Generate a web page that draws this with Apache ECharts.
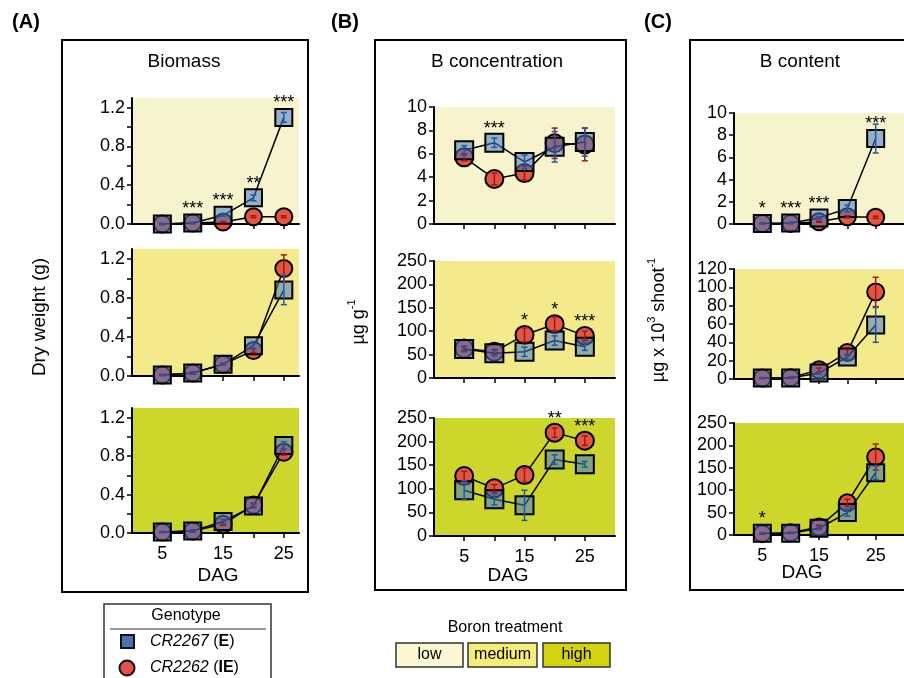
<!DOCTYPE html>
<html>
<head>
<meta charset="utf-8">
<script src="https://cdn.jsdelivr.net/npm/echarts@6/dist/echarts.min.js"></script>
<style>
  html, body { margin: 0; padding: 0; background: #fff; }
  #chart { width: 904px; height: 678px; }
</style>
</head>
<body>
<div id="chart"></div>
<script>
// days after germination
var dag = [5, 10, 15, 20, 25];

// (A) Biomass, dry weight (g)
var bioLowE = [0.00, 0.01, 0.09, 0.27, 1.10];
var bioLowEErr = [0.005, 0.005, 0.01, 0.03, 0.05];
var bioLowIE = [0.00, 0.01, 0.02, 0.075, 0.075];
var bioLowIEErr = [0.005, 0.005, 0.005, 0.01, 0.01];
var bioLowStars = ['', '***', '***', '**', '***'];

var bioMedE = [0.01, 0.03, 0.12, 0.31, 0.88];
var bioMedEErr = [0.005, 0.01, 0.01, 0.03, 0.15];
var bioMedIE = [0.01, 0.03, 0.12, 0.26, 1.10];
var bioMedIEErr = [0.005, 0.01, 0.01, 0.02, 0.14];
var bioMedStars = ['', '', '', '', ''];

var bioHighE = [0.01, 0.02, 0.12, 0.28, 0.91];
var bioHighEErr = [0.005, 0.01, 0.02, 0.02, 0.04];
var bioHighIE = [0.01, 0.02, 0.09, 0.29, 0.84];
var bioHighIEErr = [0.005, 0.01, 0.01, 0.02, 0.03];
var bioHighStars = ['', '', '', '', ''];

// (B) B concentration, ug g-1
var concLowE = [6.3, 6.95, 5.3, 6.6, 7.0];
var concLowEErr = [0.4, 0.4, 0.6, 1.3, 1.2];
var concLowIE = [5.7, 3.85, 4.35, 6.9, 6.8];
var concLowIEErr = [0.3, 0.5, 0.6, 1.3, 1.4];
var concLowStars = ['', '***', '', '', ''];

var concMedE = [62, 53, 56, 80, 67];
var concMedEErr = [6, 6, 10, 10, 8];
var concMedIE = [63, 56, 92, 115, 90];
var concMedIEErr = [4, 5, 15, 15, 10];
var concMedStars = ['', '', '*', '*', '***'];

var concHighE = [97, 78, 65, 162, 152];
var concHighEErr = [20, 12, 32, 10, 6];
var concHighIE = [127, 101, 129, 219, 202];
var concHighIEErr = [10, 8, 15, 10, 10];
var concHighStars = ['', '', '', '**', '***'];

// (C) B content, ug x 10^3 shoot-1
var contLowE = [0.05, 0.1, 0.55, 1.4, 7.7];
var contLowEErr = [0.05, 0.05, 0.1, 0.3, 1.3];
var contLowIE = [0.05, 0.05, 0.2, 0.65, 0.6];
var contLowIEErr = [0.02, 0.02, 0.05, 0.1, 0.1];
var contLowStars = ['*', '***', '***', '', '***'];

var contMedE = [1, 1, 6.5, 24, 59];
var contMedEErr = [0.5, 0.5, 1, 3, 19];
var contMedIE = [1, 1.5, 10, 29, 95];
var contMedIEErr = [0.5, 0.5, 2, 3, 16];
var contMedStars = ['', '', '', '', ''];

var contHighE = [4, 4, 15, 50, 139];
var contHighEErr = [1, 1, 3, 8, 15];
var contHighIE = [3, 5, 18, 72, 174];
var contHighIEErr = [1, 1, 4, 8, 29];
var contHighStars = ['*', '', '', '', ''];

var FONT = 'Liberation Sans, Arial, sans-serif';
var BG_LOW = '#f6f3cd', BG_MED = '#f3eb8b', BG_HIGH = '#cdd62b';
var E_FILL = 'rgba(70,120,200,0.55)', IE_FILL = '#e2563f';

var grids = [], xAxes = [], yAxes = [], series = [];

function pairs(y) {
    return dag.map(function (d, i) { return [d, y[i]]; });
}

function errSeries(idx, y, err, color) {
    return {
        type: 'custom', xAxisIndex: idx, yAxisIndex: idx, z: 5, silent: true,
        data: dag.map(function (d, i) { return [d, y[i], err[i]]; }),
        renderItem: function (params, api) {
            var x = api.value(0), v = api.value(1), e = api.value(2);
            var hi = api.coord([x, v + e]), lo = api.coord([x, v - e]);
            var st = {stroke: color, lineWidth: 1.5};
            return {type: 'group', children: [
                {type: 'line', shape: {x1: hi[0], y1: hi[1], x2: lo[0], y2: lo[1]}, style: st},
                {type: 'line', shape: {x1: hi[0] - 3, y1: hi[1], x2: hi[0] + 3, y2: hi[1]}, style: st},
                {type: 'line', shape: {x1: lo[0] - 3, y1: lo[1], x2: lo[0] + 3, y2: lo[1]}, style: st}
            ]};
        }
    };
}

function addPlot(p) {
    var i = grids.length;
    grids.push({left: p.left, top: p.top, width: p.width, height: p.height,
        show: true, backgroundColor: p.bg, borderWidth: 0});
    xAxes.push({
        gridIndex: i, type: 'value', min: 0, max: p.xMax,
        axisLine: {onZero: false, lineStyle: {color: '#000', width: 2}},
        axisTick: {customValues: dag, length: 5, lineStyle: {color: '#000', width: 1.5}},
        axisLabel: {show: p.xLabels, customValues: [5, 15, 25], margin: 12,
            fontSize: 18, color: '#000', fontFamily: FONT},
        splitLine: {show: false}
    });
    var y = {
        gridIndex: i, type: 'value', min: 0, max: p.yMax,
        axisLine: {show: true, lineStyle: {color: '#000', width: 2}},
        axisTick: {show: true, length: 5, lineStyle: {color: '#000', width: 1.5}},
        axisLabel: {margin: 7, fontSize: 18, color: '#000', fontFamily: FONT},
        splitLine: {show: false}
    };
    if (p.yTicks) {
        y.axisTick.customValues = p.yTicks;
        y.axisLabel.customValues = p.yLabels;
        y.axisLabel.formatter = function (v) { return v.toFixed(1); };
    } else {
        y.interval = p.yStep;
    }
    yAxes.push(y);

    var lineStyle = {color: '#000', width: 1.5};
    series.push({
        type: 'line', xAxisIndex: i, yAxisIndex: i, data: pairs(p.ie), z: 2,
        symbol: 'circle', symbolSize: p.sym, lineStyle: lineStyle,
        itemStyle: {color: IE_FILL, borderColor: '#000', borderWidth: 2}
    });
    series.push({
        type: 'line', xAxisIndex: i, yAxisIndex: i, data: pairs(p.e), z: 3,
        symbol: 'rect', symbolSize: p.sym, lineStyle: lineStyle,
        itemStyle: {color: E_FILL, borderColor: '#000', borderWidth: 2}
    });
    series.push(errSeries(i, p.ie, p.ieErr, '#a3161a'));
    series.push(errSeries(i, p.e, p.eErr, '#22589e'));
    var stars = p.stars;
    series.push({
        type: 'custom', xAxisIndex: i, yAxisIndex: i, z: 6, silent: true,
        data: dag.map(function (d, k) { return [d, Math.max(p.e[k], p.ie[k])]; }),
        renderItem: function (params, api) {
            var s = stars[params.dataIndex];
            if (!s) return null;
            var pt = api.coord([api.value(0), api.value(1)]);
            return {type: 'text', x: pt[0], y: pt[1] - 14, style: {
                text: s, fill: '#000', font: '18px ' + FONT,
                align: 'center', verticalAlign: 'middle',
                textAlign: 'center', textVerticalAlign: 'middle'}};
        }
    });
}

var aTicks = [0, 0.2, 0.4, 0.6, 0.8, 1.0, 1.2], aLabels = [0, 0.4, 0.8, 1.2];
var A = {left: 132, width: 167, xMax: 27.5, yMax: 1.3, yTicks: aTicks, yLabels: aLabels, sym: 17};
var B = {left: 434, width: 181, xMax: 30, sym: 18};
var C = {left: 734, width: 178, xMax: 30, sym: 17};

function mk(base, extra) {
    var o = {};
    for (var k in base) o[k] = base[k];
    for (var k2 in extra) o[k2] = extra[k2];
    return o;
}

addPlot(mk(A, {top: 98, height: 126, bg: BG_LOW, xLabels: false,
    e: bioLowE, eErr: bioLowEErr, ie: bioLowIE, ieErr: bioLowIEErr, stars: bioLowStars}));
addPlot(mk(A, {top: 249, height: 127, bg: BG_MED, xLabels: false,
    e: bioMedE, eErr: bioMedEErr, ie: bioMedIE, ieErr: bioMedIEErr, stars: bioMedStars}));
addPlot(mk(A, {top: 408, height: 125, bg: BG_HIGH, xLabels: true,
    e: bioHighE, eErr: bioHighEErr, ie: bioHighIE, ieErr: bioHighIEErr, stars: bioHighStars}));

addPlot(mk(B, {top: 107, height: 117, yMax: 10, yStep: 2, bg: BG_LOW, xLabels: false,
    e: concLowE, eErr: concLowEErr, ie: concLowIE, ieErr: concLowIEErr, stars: concLowStars}));
addPlot(mk(B, {top: 261, height: 117, yMax: 250, yStep: 50, bg: BG_MED, xLabels: false,
    e: concMedE, eErr: concMedEErr, ie: concMedIE, ieErr: concMedIEErr, stars: concMedStars}));
addPlot(mk(B, {top: 418, height: 118, yMax: 250, yStep: 50, bg: BG_HIGH, xLabels: true,
    e: concHighE, eErr: concHighEErr, ie: concHighIE, ieErr: concHighIEErr, stars: concHighStars}));

addPlot(mk(C, {top: 113, height: 111, yMax: 10, yStep: 2, bg: BG_LOW, xLabels: false,
    e: contLowE, eErr: contLowEErr, ie: contLowIE, ieErr: contLowIEErr, stars: contLowStars}));
addPlot(mk(C, {top: 269, height: 110, yMax: 120, yStep: 20, bg: BG_MED, xLabels: false,
    e: contMedE, eErr: contMedEErr, ie: contMedIE, ieErr: contMedIEErr, stars: contMedStars}));
addPlot(mk(C, {top: 423, height: 112, yMax: 250, yStep: 50, bg: BG_HIGH, xLabels: true,
    e: contHighE, eErr: contHighEErr, ie: contHighIE, ieErr: contHighIEErr, stars: contHighStars}));

function txt(x, y, text, size, extra) {
    var s = {text: text, fill: '#000', font: (extra && extra.weight ? extra.weight + ' ' : '') + size + 'px ' + FONT,
        align: 'center', verticalAlign: 'middle', textAlign: 'center', textVerticalAlign: 'middle'};
    if (extra && extra.rich) s.rich = extra.rich;
    if (extra && extra.left) { s.align = 'left'; s.textAlign = 'left'; }
    return {type: 'text', x: x, y: y, rotation: extra && extra.rot ? Math.PI / 2 : 0, style: s, z: 10};
}
function frame(x1, y1, x2, y2, color, w) {
    return {type: 'rect', shape: {x: x1, y: y1, width: x2 - x1, height: y2 - y1},
        style: {fill: null, stroke: color || '#000', lineWidth: w || 2}, z: 1};
}

var supRich = {
    n: {fontSize: 18, fontFamily: FONT, lineHeight: 22, verticalAlign: 'bottom'},
    s: {fontSize: 11, fontFamily: FONT, lineHeight: 22, verticalAlign: 'top'}
};

var graphics = [
    frame(62, 40, 308, 592), frame(375, 40, 626, 590), frame(690, 40, 930, 590),
    txt(26, 22, '(A)', 20, {weight: 'bold'}),
    txt(345, 22, '(B)', 20, {weight: 'bold'}),
    txt(658, 22, '(C)', 20, {weight: 'bold'}),
    txt(184, 62, 'Biomass', 19),
    txt(497, 62, 'B concentration', 19),
    txt(800, 62, 'B content', 19),
    txt(218, 576, 'DAG', 19), txt(508, 576, 'DAG', 19), txt(802, 573, 'DAG', 19),
    txt(40, 317, 'Dry weight (g)', 19, {rot: true}),
    txt(357, 322, '{n|µg g}{s|-1}', 18, {rot: true, rich: supRich}),
    txt(657, 320, '{n|µg x 10}{s|3}{n| shoot}{s|-1}', 18, {rot: true, rich: supRich}),

    // genotype legend
    frame(104, 604, 271, 700, '#333', 1.5),
    txt(186, 616, 'Genotype', 16),
    {type: 'line', shape: {x1: 110, y1: 629, x2: 266, y2: 629}, style: {stroke: '#333', lineWidth: 1}},
    {type: 'rect', shape: {x: 121, y: 635, width: 13, height: 13},
        style: {fill: '#4c6fb5', stroke: '#111', lineWidth: 2}},
    txt(150, 642, '{i|CR2267} ({e|E})', 16, {left: true, rich: {
        i: {fontStyle: 'italic', fontSize: 16, fontFamily: FONT},
        e: {fontWeight: 'bold', fontSize: 16, fontFamily: FONT, color: '#1d6fc4'}}}),
    {type: 'circle', shape: {cx: 127, cy: 668, r: 7.5},
        style: {fill: '#e84f4a', stroke: '#111', lineWidth: 2}},
    txt(150, 668, '{i|CR2262} ({e|IE})', 16, {left: true, rich: {
        i: {fontStyle: 'italic', fontSize: 16, fontFamily: FONT},
        e: {fontWeight: 'bold', fontSize: 16, fontFamily: FONT, color: '#c4121c'}}}),

    // boron treatment legend
    txt(505, 628, 'Boron treatment', 16),
    {type: 'rect', shape: {x: 396, y: 643, width: 67, height: 24},
        style: {fill: '#fbf7d2', stroke: '#333', lineWidth: 1.5}},
    txt(429.5, 655, 'low', 16),
    {type: 'rect', shape: {x: 468, y: 643, width: 69, height: 24},
        style: {fill: '#f4ed7a', stroke: '#333', lineWidth: 1.5}},
    txt(502.5, 655, 'medium', 16),
    {type: 'rect', shape: {x: 543, y: 643, width: 67, height: 24},
        style: {fill: '#d3d30f', stroke: '#333', lineWidth: 1.5}},
    txt(576.5, 655, 'high', 16)
];

var chart = echarts.init(document.getElementById('chart'));
chart.setOption({
    animation: false,
    backgroundColor: '#fff',
    textStyle: {fontFamily: FONT},
    grid: grids,
    xAxis: xAxes,
    yAxis: yAxes,
    series: series,
    graphic: graphics
});
</script>
</body>
</html>
